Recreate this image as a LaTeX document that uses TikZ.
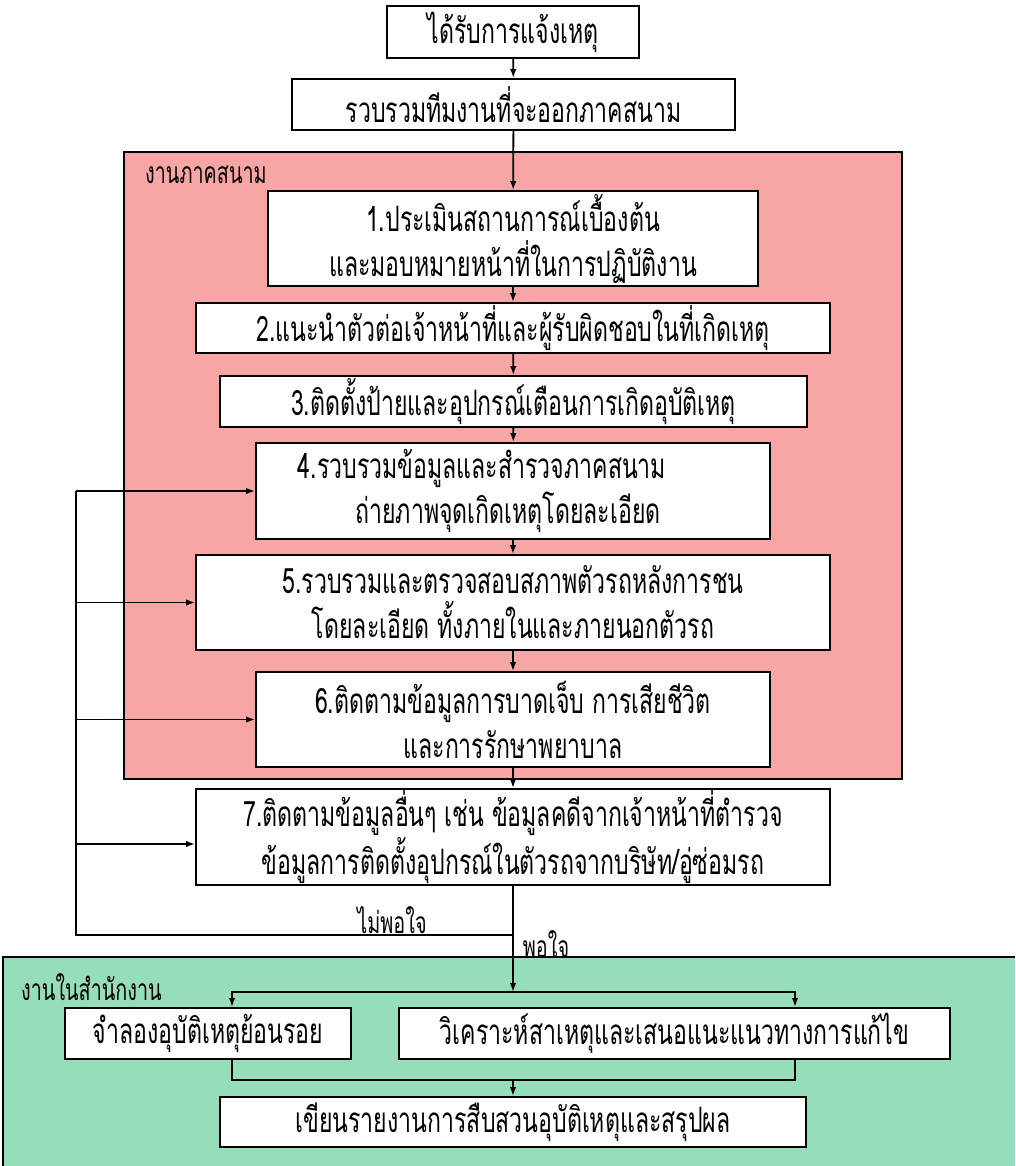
\documentclass[tikz,border=0pt]{standalone}
\usepackage{fontspec}
\newfontfamily\thaifont[Script=Thai,FakeStretch=0.66]{Loma}
\usetikzlibrary{arrows.meta}
\definecolor{fieldred}{RGB}{247,165,165}
\definecolor{officegreen}{RGB}{150,222,185}
\begin{document}
\begin{tikzpicture}[x=1pt,y=-1pt,
  box/.style={draw,line width=1.8pt,fill=white,inner sep=0pt,align=center,
    font=\thaifont\fontsize{35}{45}\selectfont},
  lbl/.style={inner sep=0pt,font=\thaifont\fontsize{30}{34}\selectfont},
  flow/.style={line width=1.8pt,-{Latex[length=9pt,width=6.5pt]}},
  plain/.style={line width=1.8pt},
  fbline/.style={line width=2.8pt}]
\useasboundingbox (0,0) rectangle (1015,1166);
% regions
\fill[fieldred] (124,152) rectangle (902,779);
\draw[line width=2pt] (124,152) rectangle (902,779);
\fill[officegreen] (3,957) rectangle (1015,1166);
\draw[line width=2pt] (1015,957) -- (3,957) -- (3,1166);
\node[lbl,anchor=west] (fieldlbl) at (145,175) {งานภาคสนาม};
\node[lbl,anchor=west] (officelbl) at (21,987) {งานในสำนักงาน};
% boxes
\node[box,minimum width=252,minimum height=52] (A) at (513,32) {ได้รับการแจ้งเหตุ};
\node[box,minimum width=443,minimum height=51] (B) at (513.5,104.5) {รวบรวมทีมงานที่จะออกภาคสนาม};
\node[box,minimum width=490,minimum height=95] (b1) at (513,238.5) {1.ประเมินสถานการณ์เบื้องต้น\\และมอบหมายหน้าที่ในการปฏิบัติงาน};
\node[box,minimum width=634,minimum height=50] (b2) at (513,328) {2.แนะนำตัวต่อเจ้าหน้าที่และผู้รับผิดชอบในที่เกิดเหตุ};
\node[box,minimum width=587,minimum height=51] (b3) at (513.5,401.5) {3.ติดตั้งป้ายและอุปกรณ์เตือนการเกิดอุบัติเหตุ};
\node[box,minimum width=514,minimum height=96] (b4) at (513,491) {4.รวบรวมข้อมูลและสำรวจภาคสนาม\hspace*{62pt}\\ถ่ายภาพจุดเกิดเหตุโดยละเอียด\hspace*{10pt}};
\node[box,minimum width=634,minimum height=95] (b5) at (513,602.5) {5.รวบรวมและตรวจสอบสภาพตัวรถหลังการชน\\โดยละเอียด ทั้งภายในและภายนอกตัวรถ};
\node[box,minimum width=514,minimum height=95] (b6) at (513,719.5) {6.ติดตามข้อมูลการบาดเจ็บ การเสียชีวิต\\และการรักษาพยาบาล};
\node[box,minimum width=634,minimum height=96] (b7) at (513,837) {7.ติดตามข้อมูลอื่นๆ เช่น ข้อมูลคดีจากเจ้าหน้าที่ตำรวจ\\ข้อมูลการติดตั้งอุปกรณ์ในตัวรถจากบริษัท/อู่ซ่อมรถ};
\node[box,minimum width=286,minimum height=51] (L) at (208,1033.5) {จำลองอุบัติเหตุย้อนรอย};
\node[box,minimum width=551,minimum height=51] (R) at (674.5,1033.5) {วิเคราะห์สาเหตุและเสนอแนะแนวทางการแก้ไข};
\node[box,minimum width=586,minimum height=50] (F) at (513,1122) {เขียนรายงานการสืบสวนอุบัติเหตุและสรุปผล};
% main flow
\draw[flow] (A) -- (B);
\draw[flow] (B) -- (b1);
\draw[flow] (b1) -- (b2);
\draw[flow] (b2) -- (b3);
\draw[flow] (b3) -- (b4);
\draw[flow] (b4) -- (b5);
\draw[flow] (b5) -- (b6);
\draw[flow] (b6) -- (b7);
% feedback
\coordinate (nb) at (513,935);
\coordinate (fbc) at (76,935);
\coordinate (fb4) at (76,491);
\coordinate (fb5) at (76,602.5);
\coordinate (fb6) at (76,719.5);
\coordinate (fb7) at (76,844);
\draw[fbline] (nb) -- (fbc) -- (fb4);
\draw[flow] (fb4) -- (b4.west);
\draw[flow] (fb5) -- (b5.west);
\draw[flow] (fb6) -- (b6.west);
\draw[flow] (fb7) -- (fb7 -| b7.west);
\node[lbl] (nosat) at (392,920) {ไม่พอใจ};
\node[lbl] (sat) at (546,944) {พอใจ};
% office
\coordinate (split) at (513,992);
\coordinate (merge) at (513,1080);
\draw[flow] (b7) -- (split);
\draw[flow] (split) -| ([xshift=24pt]L.north);
\draw[flow] (split) -| ([xshift=120.5pt]R.north);
\draw[plain] ([xshift=24pt]L.south) |- (merge);
\draw[plain] ([xshift=120.5pt]R.south) |- (merge);
\draw[flow] (merge) -- (F);
\end{tikzpicture}
\end{document}
